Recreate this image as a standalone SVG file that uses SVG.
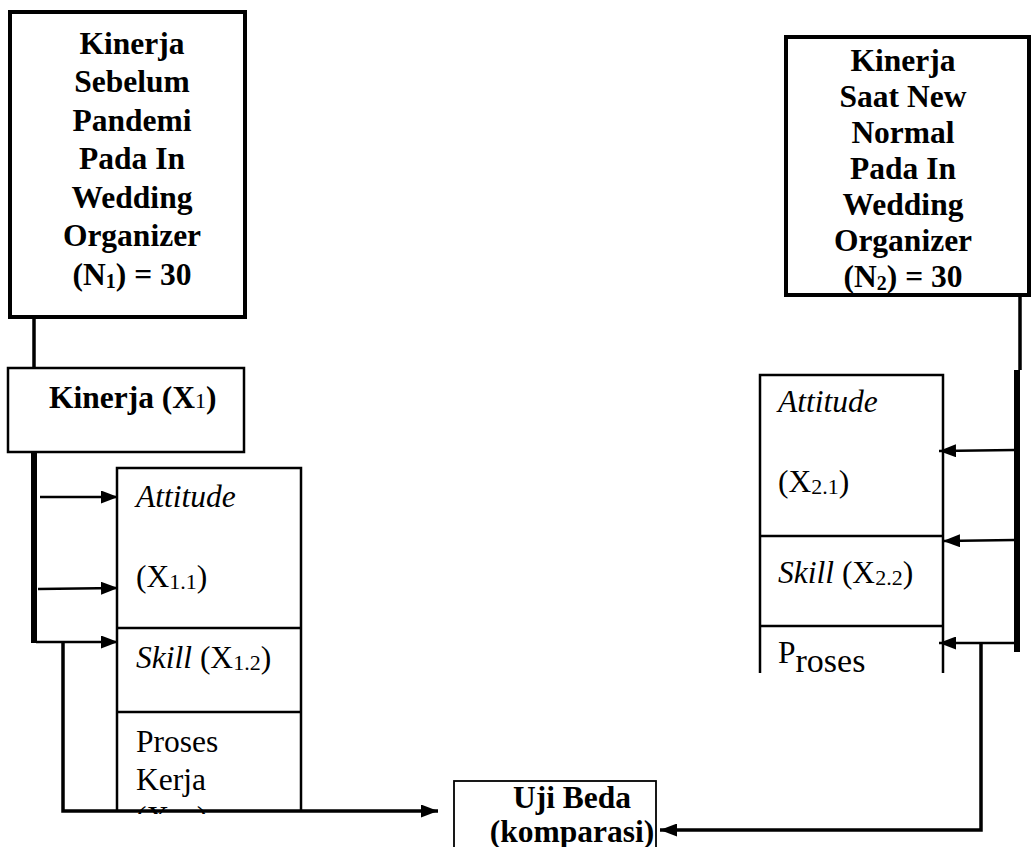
<svg xmlns="http://www.w3.org/2000/svg" width="1032" height="847" viewBox="0 0 1032 847">
<style>
.t{font-family:"Liberation Serif","Times New Roman",serif;font-size:31.5px;fill:#000}
.b{font-weight:bold}
.i{font-style:italic}
.box{fill:#fff;stroke:#000}
.ln{fill:none;stroke:#000}
</style>
<defs>
<marker id="ah" markerWidth="17" markerHeight="13" refX="17" refY="6.5" orient="auto" markerUnits="userSpaceOnUse"><path d="M0,0 L17,6.5 L0,13 z" fill="#000"/></marker>
<clipPath id="clipL"><rect x="117" y="468" width="185" height="346"/></clipPath>
</defs>

<g id="node-before">
<rect class="box" x="10" y="12" width="235" height="305" stroke-width="4"/>
<g class="t b" text-anchor="middle">
<text x="132" y="54">Kinerja</text>
<text x="132" y="92">Sebelum</text>
<text x="132" y="131">Pandemi</text>
<text x="132" y="169">Pada In</text>
<text x="132" y="208">Wedding</text>
<text x="132" y="246">Organizer</text>
<text x="132" y="285">(N<tspan font-size="20" dy="3">1</tspan><tspan dy="-3">) = 30</tspan></text>
</g>
</g>

<g id="node-newnormal">
<rect class="box" x="786" y="37" width="243" height="258" stroke-width="4"/>
<g class="t b" text-anchor="middle">
<text x="903" y="71">Kinerja</text>
<text x="903" y="107">Saat New</text>
<text x="903" y="143">Normal</text>
<text x="903" y="179">Pada In</text>
<text x="903" y="215">Wedding</text>
<text x="903" y="251">Organizer</text>
<text x="903" y="287">(N<tspan font-size="20" dy="3">2</tspan><tspan dy="-3">) = 30</tspan></text>
</g>
</g>

<g id="node-kinerja-x1">
<rect class="box" x="8" y="368" width="236" height="84" stroke-width="2.5"/>
<text class="t b" x="49" y="408">Kinerja (X<tspan font-size="22" font-weight="normal">1</tspan>)</text>
</g>

<g id="node-indicators-x1">
<path class="ln" stroke-width="2.5" d="M117,811 V468 H301 V811 M117,628 H301 M117,712 H301"/>
<g clip-path="url(#clipL)">
<text class="t i" x="136" y="507">Attitude</text>
<text class="t" x="136" y="587">(X<tspan font-size="22" dy="2">1.1</tspan><tspan dy="-2">)</tspan></text>
<text class="t" x="136" y="668"><tspan font-style="italic">Skill</tspan> (X<tspan font-size="22" dy="2">1.2</tspan><tspan dy="-2">)</tspan></text>
<text class="t" x="136" y="752">Proses</text>
<text class="t" x="136" y="790">Kerja</text>
<text class="t" x="136" y="828">(X<tspan font-size="22" dy="2">1.3</tspan><tspan dy="-2">)</tspan></text>
</g>
</g>

<g id="node-indicators-x2">
<path class="ln" stroke-width="2.5" d="M760,673 V375 H943 V673 M760,536 H943 M760,626 H943"/>
<text class="t i" x="778" y="412">Attitude</text>
<text class="t" x="778" y="492">(X<tspan font-size="22" dy="2">2.1</tspan><tspan dy="-2">)</tspan></text>
<text class="t" x="778" y="583"><tspan font-style="italic">Skill</tspan> (X<tspan font-size="22" dy="2">2.2</tspan><tspan dy="-2">)</tspan></text>
<text class="t" x="778" y="663">P<tspan font-size="34" dy="9">roses</tspan></text>
</g>

<g id="node-ujibeda">
<rect class="box" x="454" y="781" width="202" height="80" stroke="#333" stroke-width="1.8"/>
<text class="t b" x="572" y="808" text-anchor="middle" font-size="30">Uji Beda</text>
<text class="t b" x="572" y="842" text-anchor="middle" font-size="30">(komparasi)</text>
</g>

<g id="connectors">
<path class="ln" stroke-width="3.5" d="M34,317 V368"/>
<path class="ln" stroke-width="6" d="M34,452 V643"/>
<path class="ln" stroke-width="3.5" d="M1020,295 V370"/>
<path class="ln" stroke-width="6" d="M1017,370 V652"/>
<path class="ln" stroke-width="2.5" d="M40,497 L118,497" marker-end="url(#ah)"/>
<path class="ln" stroke-width="2.5" d="M38,589 L118,588" marker-end="url(#ah)"/>
<path class="ln" stroke-width="2.5" d="M36,642 L118,642" marker-end="url(#ah)"/>
<path class="ln" stroke-width="3.5" d="M63,642 V811 H438" marker-end="url(#ah)"/>
<path class="ln" stroke-width="2.5" d="M1015,450 L939,451" marker-end="url(#ah)"/>
<path class="ln" stroke-width="2.5" d="M1015,540 L943,541" marker-end="url(#ah)"/>
<path class="ln" stroke-width="2.5" d="M1015,643 L939,643" marker-end="url(#ah)"/>
<path class="ln" stroke-width="3.5" d="M981,643 V830 H660" marker-end="url(#ah)"/>
</g>
</svg>
